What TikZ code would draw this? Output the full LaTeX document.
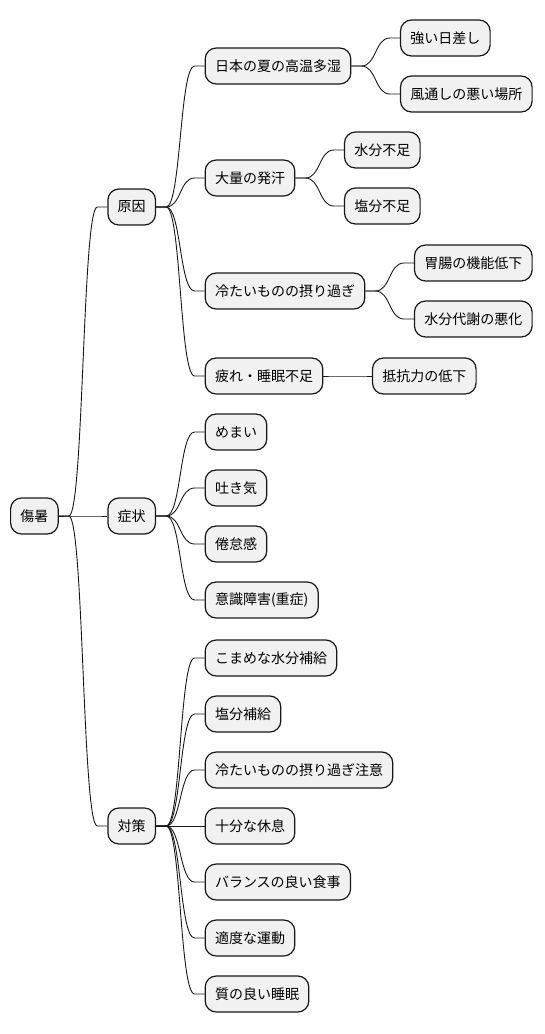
\documentclass[tikz,border=0pt]{standalone}
\usepackage{fontspec}
\usepackage{xcolor}
\usepackage{tikz}
\usetikzlibrary{calc}
\newfontfamily\jpfont{Noto Sans CJK JP}
\definecolor{boxfill}{HTML}{F1F1F1}
\definecolor{boxline}{HTML}{181818}
\tikzset{
  mmbox/.style={draw=boxline,fill=boxfill,line width=1.2pt,rounded corners=11pt,
    minimum height=36pt,inner xsep=9.8pt,inner ysep=0pt,anchor=west,
    font=\jpfont\fontsize{14pt}{16pt}\selectfont},
  conn/.style={draw=boxline,line width=0.9pt}
}
\newcommand{\branch}[2]{%
  \draw[conn] (#1.east) -- ++(10pt,0) .. controls +(15pt,0) and +(-15pt,0) .. ([xshift=-10pt]#2.west) -- (#2.west);}

\begin{document}
\begin{tikzpicture}[x=1pt,y=-1pt]
  \useasboundingbox (0,0) rectangle (544,1034);
  % Wurzel
  \node[mmbox] (root) at (10,516) {傷暑};
  \node[mmbox,xshift=48.5pt] (cause) at (root.east |- 0,207) {原因};
  \node[mmbox,xshift=48.5pt] (symp) at (root.east |- 0,516) {症状};
  \node[mmbox,xshift=48.5pt] (cure) at (root.east |- 0,826) {対策};
  \branch{root}{cause}
  \branch{root}{symp}
  \branch{root}{cure}
  % Ursachen
  \node[mmbox,xshift=48.5pt] (humid) at (cause.east |- 0,66) {日本の夏の高温多湿};
  \node[mmbox,xshift=48.5pt] (sweat) at (cause.east |- 0,178) {大量の発汗};
  \node[mmbox,xshift=48.5pt] (cold) at (cause.east |- 0,291) {冷たいものの摂り過ぎ};
  \node[mmbox,xshift=48.5pt] (tired) at (cause.east |- 0,376) {疲れ・睡眠不足};
  \foreach \c in {humid,sweat,cold,tired} {
    \branch{cause}{\c}
  }
  \node[mmbox,xshift=48.5pt] (sun) at (humid.east |- 0,38) {強い日差し};
  \node[mmbox,xshift=48.5pt] (air) at (humid.east |- 0,94) {風通しの悪い場所};
  \node[mmbox,xshift=48.5pt] (water) at (sweat.east |- 0,150) {水分不足};
  \node[mmbox,xshift=48.5pt] (salt) at (sweat.east |- 0,206) {塩分不足};
  \node[mmbox,xshift=48.5pt] (gut) at (cold.east |- 0,263) {胃腸の機能低下};
  \node[mmbox,xshift=48.5pt] (meta) at (cold.east |- 0,319) {水分代謝の悪化};
  \node[mmbox,xshift=48.5pt] (resist) at (tired.east |- 0,376) {抵抗力の低下};
  \branch{humid}{sun}
  \branch{humid}{air}
  \branch{sweat}{water}
  \branch{sweat}{salt}
  \branch{cold}{gut}
  \branch{cold}{meta}
  \branch{tired}{resist}
  % Symptome
  \foreach \t [count=\i] in {めまい,吐き気,倦怠感,意識障害(重症)} {
    \pgfmathsetmacro\yy{376+56*\i}
    \node[mmbox,xshift=48.5pt] (symp\i) at (symp.east |- 0,\yy) {\t};
    \branch{symp}{symp\i}
  }
  % Massnahmen
  \foreach \t [count=\i] in {こまめな水分補給,塩分補給,冷たいものの摂り過ぎ注意,十分な休息,バランスの良い食事,適度な運動,質の良い睡眠} {
    \pgfmathsetmacro\yy{602+56*\i}
    \node[mmbox,xshift=48.5pt] (cure\i) at (cure.east |- 0,\yy) {\t};
    \branch{cure}{cure\i}
  }
\end{tikzpicture}
\end{document}
